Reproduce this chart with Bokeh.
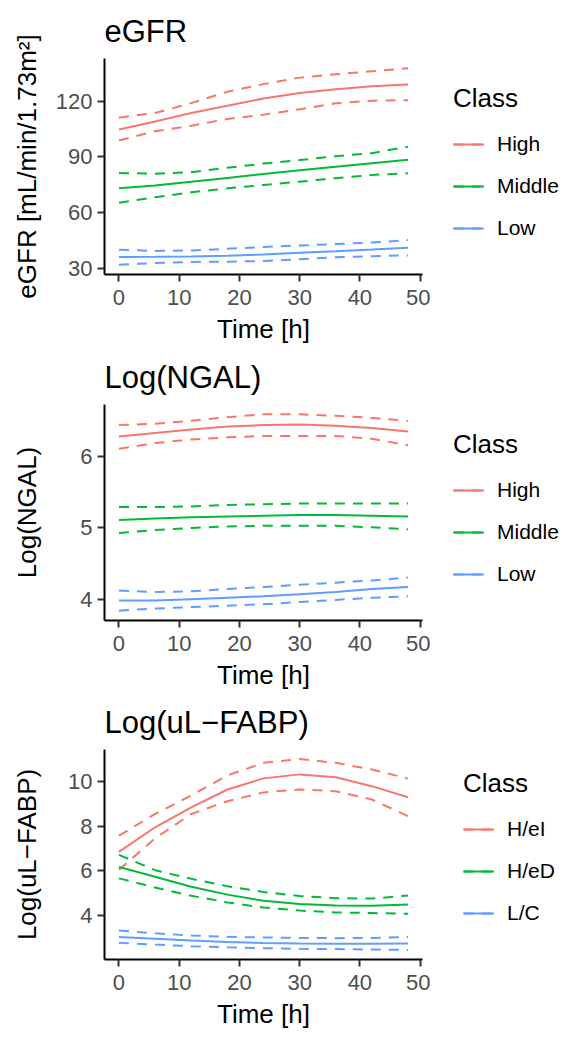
from bokeh.plotting import figure
from bokeh.models import Legend, LegendItem, Range1d, FixedTicker
from bokeh.layouts import column, row
from bokeh.embed import file_html
from bokeh.resources import INLINE

# ---------------- data ----------------
time_h = [0, 6, 12, 18, 24, 30, 36, 42, 48]
x_ticks = [0, 10, 20, 30, 40, 50]

# Panel 1: eGFR
egfr_classes = ["High", "Middle", "Low"]
egfr_high_fit = [104.7, 109.0, 113.6, 117.5, 121.4, 124.3, 126.4, 128.0, 128.9]
egfr_high_upr = [111.1, 113.6, 118.9, 125.0, 129.1, 132.6, 134.4, 136.0, 137.6]
egfr_high_lwr = [98.8, 103.8, 106.8, 110.4, 112.7, 115.6, 118.8, 120.2, 120.5]
egfr_mid_fit = [73.2, 74.6, 76.6, 78.7, 80.8, 82.8, 84.7, 86.6, 88.5]
egfr_mid_upr = [81.4, 81.0, 81.8, 84.2, 86.4, 88.3, 90.4, 92.0, 95.5]
egfr_mid_lwr = [65.4, 68.3, 71.0, 73.1, 74.9, 76.7, 78.6, 80.3, 81.2]
egfr_low_fit = [36.2, 36.3, 36.5, 36.9, 37.6, 38.5, 39.3, 40.2, 41.2]
egfr_low_upr = [40.1, 39.5, 39.7, 40.6, 41.6, 42.4, 43.2, 44.0, 45.3]
egfr_low_lwr = [32.1, 33.0, 33.6, 33.7, 34.1, 35.0, 36.1, 36.6, 37.1]
egfr_ticks = [30, 60, 90, 120]

# Panel 2: Log(NGAL)
ngal_classes = ["High", "Middle", "Low"]
ngal_high_fit = [6.27, 6.32, 6.37, 6.41, 6.43, 6.44, 6.42, 6.39, 6.34]
ngal_high_upr = [6.43, 6.45, 6.49, 6.54, 6.58, 6.58, 6.56, 6.53, 6.49]
ngal_high_lwr = [6.10, 6.18, 6.23, 6.26, 6.28, 6.28, 6.28, 6.24, 6.15]
ngal_mid_fit = [5.11, 5.13, 5.15, 5.16, 5.17, 5.18, 5.18, 5.17, 5.16]
ngal_mid_upr = [5.29, 5.29, 5.30, 5.32, 5.33, 5.34, 5.34, 5.34, 5.34]
ngal_mid_lwr = [4.93, 4.97, 5.00, 5.02, 5.03, 5.03, 5.03, 5.01, 4.98]
ngal_low_fit = [3.99, 3.99, 4.01, 4.03, 4.05, 4.08, 4.11, 4.15, 4.18]
ngal_low_upr = [4.13, 4.11, 4.12, 4.15, 4.18, 4.21, 4.24, 4.27, 4.31]
ngal_low_lwr = [3.85, 3.88, 3.90, 3.92, 3.94, 3.97, 4.00, 4.03, 4.05]
ngal_ticks = [4, 5, 6]

# Panel 3: Log(uL-FABP)
fabp_classes = ["H/eI", "H/eD", "L/C"]
fabp_hei_fit = [6.84, 7.95, 8.85, 9.65, 10.15, 10.33, 10.20, 9.80, 9.30]
fabp_hei_upr = [7.57, 8.55, 9.38, 10.28, 10.85, 11.02, 10.85, 10.55, 10.14]
fabp_hei_lwr = [6.04, 7.45, 8.55, 9.12, 9.52, 9.65, 9.57, 9.20, 8.45]
fabp_hed_fit = [6.16, 5.72, 5.27, 4.92, 4.64, 4.50, 4.43, 4.42, 4.48]
fabp_hed_upr = [6.71, 6.02, 5.63, 5.30, 5.04, 4.86, 4.76, 4.74, 4.88]
fabp_hed_lwr = [5.65, 5.24, 4.87, 4.57, 4.34, 4.20, 4.12, 4.09, 4.06]
fabp_lc_fit = [3.01, 2.93, 2.85, 2.79, 2.74, 2.72, 2.71, 2.71, 2.72]
fabp_lc_upr = [3.30, 3.18, 3.08, 3.02, 2.99, 2.97, 2.96, 2.97, 3.01]
fabp_lc_lwr = [2.75, 2.67, 2.60, 2.55, 2.51, 2.48, 2.47, 2.45, 2.43]
fabp_ticks = [4, 6, 8, 10]

# ---------------- style ----------------
COLORS = ["#F8766D", "#00BA38", "#619CFF"]
FONT = "Liberation Sans"
FRAME_H = 216
FRAME_W = 318
LEFT = 104
MAIN_W = 430
LEG_W = 139
DASH = "10 8"
LW = 2


def make_panel(title, ylabel, classes, fits, uprs, lwrs, yticks, height, top,
               ylabel_standoff, legend_x):
    allv = [v for s in fits + uprs + lwrs for v in s]
    lo, hi = min(allv), max(allv)
    pad = 0.05 * (hi - lo)
    xpad = 0.05 * (max(time_h) - min(time_h))
    p = figure(width=MAIN_W, height=height, output_backend="svg",
               toolbar_location=None,
               x_range=Range1d(min(time_h) - xpad, max(time_h) + xpad),
               y_range=Range1d(lo - pad, hi + pad),
               min_border_left=LEFT, min_border_right=MAIN_W - LEFT - FRAME_W,
               min_border_top=top, min_border_bottom=height - top - FRAME_H)
    p.outline_line_color = None
    p.xgrid.visible = False
    p.ygrid.visible = False
    p.background_fill_color = "white"

    p.title.text = title
    p.title.text_font = FONT
    p.title.text_font_size = "31px"
    p.title.text_font_style = "normal"
    p.title.text_color = "black"
    p.title.align = "left"
    p.title.standoff = 20

    for ax in (p.xaxis[0], p.yaxis[0]):
        ax.axis_line_color = "black"
        ax.axis_line_width = 2
        ax.major_tick_line_color = "#333333"
        ax.major_tick_line_width = 2
        ax.major_tick_out = 7
        ax.major_tick_in = 0
        ax.minor_tick_in = 0
        ax.minor_tick_out = 0
        ax.major_label_text_font = FONT
        ax.major_label_text_font_size = "22px"
        ax.major_label_text_color = "#4D4D4D"
        ax.axis_label_text_font = FONT
        ax.axis_label_text_font_size = "26px"
        ax.axis_label_text_font_style = "normal"
        ax.axis_label_text_color = "black"
    p.xaxis[0].ticker = FixedTicker(ticks=x_ticks)
    p.yaxis[0].ticker = FixedTicker(ticks=yticks)
    p.xaxis[0].major_label_standoff = 8
    p.yaxis[0].major_label_standoff = 5
    p.xaxis[0].axis_label = "Time [h]"
    p.xaxis[0].axis_label_standoff = 6
    p.yaxis[0].axis_label = ylabel
    p.yaxis[0].axis_label_standoff = ylabel_standoff

    for col, f, u, l in zip(COLORS, fits, uprs, lwrs):
        p.line(time_h, f, line_color=col, line_width=LW)
        p.line(time_h, u, line_color=col, line_width=LW, line_dash=DASH)
        p.line(time_h, l, line_color=col, line_width=LW, line_dash=DASH)

    # legend lives in its own small figure to the right of the panel;
    # its key renderers use the series data but lie outside its view
    lf = figure(width=LEG_W, height=height, output_backend="svg",
                toolbar_location=None, x_axis_location=None,
                y_axis_location=None,
                x_range=Range1d(1000, 1001), y_range=Range1d(1000, 1001),
                min_border=0)
    lf.outline_line_color = None
    lf.xgrid.visible = False
    lf.ygrid.visible = False
    items = []
    for cls, col, f, u in zip(classes, COLORS, fits, uprs):
        rf = lf.line(time_h, f, line_color=col, line_width=LW)
        ru = lf.line(time_h, u, line_color=col, line_width=LW, line_dash=DASH)
        items.append(LegendItem(label=cls, renderers=[rf, ru]))
    legend = Legend(items=items, location=(legend_x, 34), title="Class")
    legend.title_text_font = FONT
    legend.title_text_font_size = "26px"
    legend.title_text_font_style = "normal"
    legend.title_text_color = "black"
    legend.title_standoff = 18
    legend.label_text_font = FONT
    legend.label_text_font_size = "21px"
    legend.label_text_color = "black"
    legend.label_standoff = 13
    legend.glyph_width = 31
    legend.glyph_height = 24
    legend.label_height = 24
    legend.spacing = 18
    legend.padding = 8
    legend.margin = 0
    legend.border_line_color = None
    legend.background_fill_alpha = 0
    lf.add_layout(legend)
    return row(p, lf, spacing=0)


r1 = make_panel("eGFR", "eGFR [mL/min/1.73m\u00b2]", egfr_classes,
                [egfr_high_fit, egfr_mid_fit, egfr_low_fit],
                [egfr_high_upr, egfr_mid_upr, egfr_low_upr],
                [egfr_high_lwr, egfr_mid_lwr, egfr_low_lwr],
                egfr_ticks, 346, 58, 11, 23)
r2 = make_panel("Log(NGAL)", "Log(NGAL)", ngal_classes,
                [ngal_high_fit, ngal_mid_fit, ngal_low_fit],
                [ngal_high_upr, ngal_mid_upr, ngal_low_upr],
                [ngal_high_lwr, ngal_mid_lwr, ngal_low_lwr],
                ngal_ticks, 346, 58, 35, 23)
r3 = make_panel("Log(uL\u2212FABP)", "Log(uL\u2212FABP)", fabp_classes,
                [fabp_hei_fit, fabp_hed_fit, fabp_lc_fit],
                [fabp_hei_upr, fabp_hed_upr, fabp_lc_upr],
                [fabp_hei_lwr, fabp_hed_lwr, fabp_lc_lwr],
                fabp_ticks, 339, 57, 23, 33)

layout = column(r1, r2, r3, spacing=0)
open("out.html", "w").write(file_html(layout, INLINE))
